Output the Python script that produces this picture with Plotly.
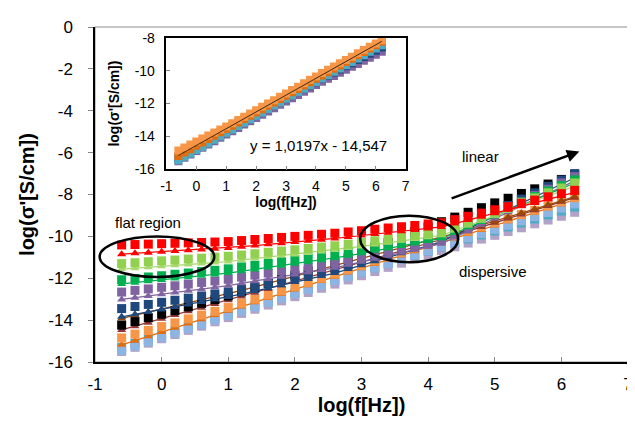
import plotly.graph_objects as go

# ---------------- data ----------------
log_f = [-0.6, -0.4, -0.2, 0.0, 0.2, 0.4, 0.6, 0.8, 1.0, 1.2, 1.4, 1.6, 1.8, 2.0, 2.2, 2.4,
         2.6, 2.8, 3.0, 3.2, 3.4, 3.6, 3.8, 4.0, 4.2, 4.4, 4.6, 4.8, 5.0, 5.2, 5.4, 5.6,
         5.8, 6.0, 6.2]

red_sq = [-10.41, -10.39, -10.37, -10.35, -10.33, -10.31, -10.29, -10.27, -10.25,
          -10.20, -10.15, -10.10, -10.05, -10.00, -9.95, -9.90, -9.85,
          -9.79, -9.73, -9.66, -9.60, -9.54, -9.48, -9.41, -9.35,
          -9.20, -9.04, -8.89, -8.73, -8.58, -8.42, -8.27, -8.11, -7.96, -7.80]
red_tri = [-10.85, -10.81, -10.78, -10.74, -10.70, -10.66, -10.63, -10.59, -10.55,
           -10.49, -10.44, -10.38, -10.33, -10.27, -10.21, -10.16, -10.10,
           -10.03, -9.96, -9.89, -9.83, -9.76, -9.69, -9.62, -9.55,
           -9.39, -9.22, -9.06, -8.89, -8.73, -8.56, -8.40, -8.23, -8.07, -7.90]
lgreen_sq = [-11.30, -11.26, -11.21, -11.17, -11.13, -11.08, -11.04, -10.99, -10.95,
             -10.89, -10.83, -10.76, -10.70, -10.64, -10.58, -10.51, -10.45,
             -10.37, -10.29, -10.21, -10.13, -10.04, -9.96, -9.88, -9.80,
             -9.57, -9.33, -9.10, -8.86, -8.63, -8.39, -8.16, -7.92, -7.69, -7.45]
lgreen_tri = [-11.56, -11.52, -11.47, -11.43, -11.38, -11.34, -11.29, -11.25, -11.20,
              -11.13, -11.06, -10.99, -10.93, -10.86, -10.79, -10.72, -10.65,
              -10.56, -10.48, -10.39, -10.30, -10.21, -10.13, -10.04, -9.95,
              -9.72, -9.48, -9.25, -9.01, -8.78, -8.54, -8.31, -8.07, -7.84, -7.60]
green_sq = [-12.07, -12.01, -11.94, -11.88, -11.81, -11.75, -11.68, -11.62, -11.55,
            -11.46, -11.38, -11.29, -11.20, -11.11, -11.03, -10.94, -10.85,
            -10.74, -10.63, -10.51, -10.40, -10.29, -10.18, -10.06, -9.95,
            -9.69, -9.42, -9.16, -8.89, -8.63, -8.36, -8.10, -7.83, -7.57, -7.30]
green_tri = [-12.27, -12.21, -12.14, -12.08, -12.01, -11.95, -11.88, -11.82, -11.75,
             -11.66, -11.58, -11.49, -11.40, -11.31, -11.23, -11.14, -11.05,
             -10.93, -10.81, -10.69, -10.58, -10.46, -10.34, -10.22, -10.10,
             -9.84, -9.57, -9.31, -9.04, -8.78, -8.51, -8.25, -7.98, -7.72, -7.45]
purple_sq = [-12.66, -12.58, -12.51, -12.43, -12.36, -12.28, -12.20, -12.13, -12.05,
             -11.95, -11.85, -11.75, -11.65, -11.55, -11.45, -11.35, -11.25,
             -11.11, -10.98, -10.84, -10.70, -10.56, -10.43, -10.29, -10.15,
             -9.85, -9.55, -9.25, -8.95, -8.65, -8.35, -8.05, -7.75, -7.45, -7.15]
purple_tri = [-13.01, -12.93, -12.85, -12.76, -12.68, -12.60, -12.52, -12.43, -12.35,
              -12.24, -12.14, -12.03, -11.93, -11.82, -11.71, -11.61, -11.50,
              -11.36, -11.21, -11.07, -10.93, -10.78, -10.64, -10.49, -10.35,
              -10.05, -9.75, -9.45, -9.15, -8.85, -8.55, -8.25, -7.95, -7.65, -7.35]
dblue_sq = [-13.45, -13.35, -13.25, -13.15, -13.05, -12.95, -12.85, -12.75, -12.65,
            -12.51, -12.38, -12.24, -12.10, -11.96, -11.83, -11.69, -11.55,
            -11.36, -11.18, -10.99, -10.80, -10.61, -10.43, -10.24, -10.05,
            -9.75, -9.44, -9.14, -8.83, -8.53, -8.22, -7.92, -7.61, -7.31, -7.00]
dblue_tri = [-13.84, -13.72, -13.61, -13.49, -13.37, -13.25, -13.14, -13.02, -12.90,
             -12.76, -12.61, -12.47, -12.33, -12.18, -12.04, -11.89, -11.75,
             -11.56, -11.38, -11.19, -11.00, -10.81, -10.63, -10.44, -10.25,
             -9.95, -9.64, -9.34, -9.03, -8.73, -8.42, -8.12, -7.81, -7.51, -7.20]
brown_tri = [-13.92, -13.77, -13.63, -13.48, -13.34, -13.19, -13.04, -12.90, -12.75,
             -12.58, -12.41, -12.24, -12.08, -11.91, -11.74, -11.57, -11.40,
             -11.23, -11.06, -10.89, -10.73, -10.56, -10.39, -10.22, -10.05,
             -9.86, -9.66, -9.47, -9.27, -9.08, -8.88, -8.69, -8.49, -8.30, -8.10]
black_sq = [-14.24, -14.07, -13.89, -13.72, -13.55, -13.37, -13.20, -13.02, -12.85,
            -12.65, -12.45, -12.25, -12.05, -11.85, -11.65, -11.45, -11.25,
            -11.01, -10.76, -10.52, -10.28, -10.03, -9.79, -9.55, -9.30,
            -9.08, -8.85, -8.63, -8.40, -8.18, -7.95, -7.73, -7.50, -7.28, -7.05]
maroon_tri = [-14.47, -14.29, -14.12, -13.94, -13.76, -13.58, -13.41, -13.23, -13.05,
              -12.87, -12.69, -12.51, -12.33, -12.14, -11.96, -11.78, -11.60,
              -11.42, -11.24, -11.06, -10.88, -10.69, -10.51, -10.33, -10.15,
              -9.95, -9.75, -9.55, -9.35, -9.15, -8.95, -8.75, -8.55, -8.35, -8.15]
orange_sq = [-14.85, -14.67, -14.49, -14.31, -14.13, -13.94, -13.76, -13.58, -13.40,
             -13.20, -13.00, -12.80, -12.60, -12.40, -12.20, -12.00, -11.80,
             -11.59, -11.39, -11.18, -10.98, -10.77, -10.56, -10.36, -10.15,
             -9.95, -9.75, -9.55, -9.35, -9.15, -8.95, -8.75, -8.55, -8.35, -8.15]
orange_tri = [-15.18, -14.98, -14.77, -14.57, -14.37, -14.16, -13.96, -13.75, -13.55,
              -13.35, -13.15, -12.94, -12.74, -12.54, -12.34, -12.13, -11.93,
              -11.73, -11.52, -11.32, -11.11, -10.91, -10.71, -10.50, -10.30,
              -10.10, -9.89, -9.69, -9.48, -9.28, -9.07, -8.87, -8.66, -8.46, -8.25]
lblue_sq = [-15.45, -15.24, -15.03, -14.82, -14.62, -14.41, -14.20, -13.99, -13.78,
            -13.57, -13.37, -13.16, -12.95, -12.74, -12.54, -12.33, -12.12,
            -11.92, -11.71, -11.51, -11.30, -11.10, -10.89, -10.69, -10.48,
            -10.28, -10.07, -9.87, -9.67, -9.47, -9.26, -9.06, -8.86, -8.65, -8.45]
blue_sq = [-15.30, -15.10, -14.90, -14.70, -14.50, -14.30, -14.10, -13.90, -13.70,
           -13.50, -13.30, -13.10, -12.90, -12.70, -12.50, -12.30, -12.10,
           -11.90, -11.70, -11.50, -11.30, -11.10, -10.90, -10.70, -10.50,
           -10.31, -10.12, -9.93, -9.74, -9.55, -9.36, -9.17, -8.98, -8.79, -8.60]
lav_sq = [-15.50, -15.30, -15.10, -14.89, -14.69, -14.49, -14.29, -14.08, -13.88,
          -13.68, -13.48, -13.28, -13.08, -12.88, -12.68, -12.48, -12.28,
          -12.08, -11.88, -11.68, -11.48, -11.28, -11.08, -10.88, -10.68,
          -10.50, -10.32, -10.13, -9.95, -9.77, -9.59, -9.40, -9.22, -9.04, -8.85]

# fitted line shown in the inset: y = 1,0197x - 14,547
fit_slope = 1.0197
fit_intercept = -14.547
fit_x = [-0.6, 6.2]

x_ticks = [-1, 0, 1, 2, 3, 4, 5, 6, 7]
x_ticktext = ["-1", "0", "1", "2", "3", "4", "5", "6", "7"]
y_ticks = [0, -2, -4, -6, -8, -10, -12, -14, -16]
y_ticktext = ["0", "-2", "-4", "-6", "-8", "-10", "-12", "-14", "-16"]
inset_y_ticks = [-8, -10, -12, -14, -16]
inset_y_ticktext = ["-8", "-10", "-12", "-14", "-16"]

# (values, colour, symbol, with line)  -- drawn bottom to top
main_series = [
    (lav_sq, "#B3A2C7", "square", False),
    (blue_sq, "#4BACC6", "square", False),
    (lblue_sq, "#8DB4E2", "square", False),
    (orange_tri, "#E46C0A", "triangle-up", True),
    (orange_sq, "#F79646", "square", False),
    (maroon_tri, "#953735", "triangle-up", True),
    (brown_tri, "#984807", "triangle-up", True),
    (black_sq, "#000000", "square", False),
    (dblue_tri, "#1F497D", "triangle-up", True),
    (dblue_sq, "#1F497D", "square", False),
    (purple_tri, "#8064A2", "triangle-up", True),
    (purple_sq, "#8064A2", "square", False),
    (green_tri, "#00B050", "triangle-up", True),
    (green_sq, "#00B050", "square", False),
    (lgreen_tri, "#A9D86E", "triangle-up", True),
    (lgreen_sq, "#92D050", "square", False),
    (red_tri, "#FF0000", "triangle-up", True),
    (red_sq, "#FF0000", "square", False),
]

inset_series = [
    (lav_sq, "#8064A2"),
    (blue_sq, "#1F497D"),
    (lblue_sq, "#4BACC6"),
    (orange_tri, "#E46C0A"),
    (orange_sq, "#F79646"),
]

FONT = "Arial, 'Liberation Sans', sans-serif"

fig = go.Figure()
for vals, col, sym, line in main_series:
    fig.add_trace(go.Scatter(
        x=log_f, y=vals, mode="lines+markers" if line else "markers",
        line=dict(color=col, width=1.25),
        marker=dict(symbol=sym, size=9 if sym == "square" else 8, color=col, line=dict(width=0)),
        showlegend=False, hoverinfo="skip", xaxis="x", yaxis="y"))

for vals, col in inset_series:
    fig.add_trace(go.Scatter(
        x=log_f, y=vals, mode="markers",
        marker=dict(symbol="square", size=8, color=col, line=dict(width=0)),
        showlegend=False, hoverinfo="skip", xaxis="x2", yaxis="y2"))

fig.add_trace(go.Scatter(
    x=fit_x, y=[fit_slope * v + fit_intercept for v in fit_x], mode="lines",
    line=dict(color="#3A2A1A", width=1), showlegend=False, hoverinfo="skip",
    xaxis="x2", yaxis="y2"))

fig.update_layout(
    width=635, height=424,
    margin=dict(l=87, r=10, t=15, b=70),
    paper_bgcolor="white", plot_bgcolor="white",
    font=dict(family=FONT, color="black"),
    xaxis=dict(range=[-1, 7], tickvals=x_ticks, ticktext=x_ticktext,
               ticks="inside", ticklen=5, tickcolor="#868686", showgrid=False, zeroline=False,
               showline=True, linecolor="black", linewidth=1.5, mirror=False,
               tickfont=dict(size=17, family=FONT), ticklabelstandoff=6,
               ticklabeloverflow="allow",
               title=dict(text="<b>log(f[Hz])</b>", font=dict(size=20, family=FONT), standoff=4),
               domain=[0, 1]),
    yaxis=dict(range=[-16, 0], tickvals=y_ticks, ticktext=y_ticktext,
               ticks="outside", ticklen=5, tickcolor="#868686", showgrid=False, zeroline=False,
               showline=True, linecolor="black", linewidth=1.5,
               tickfont=dict(size=17, family=FONT), ticklabelstandoff=12,
               title=dict(text="<b>log(σ'[S/cm])</b>", font=dict(size=20, family=FONT), standoff=8),
               domain=[0, 1]),
    xaxis2=dict(range=[-1, 7], tickvals=x_ticks, ticktext=x_ticktext, anchor="y2",
                domain=[0.134, 0.583], ticks="inside", ticklen=4, tickcolor="#868686",
                showgrid=False, zeroline=False, showline=True, linecolor="black",
                linewidth=1.5, mirror=True, tickfont=dict(size=14, family=FONT),
                ticklabelstandoff=3,
                title=dict(text="<b>log(f[Hz])</b>", font=dict(size=14, family=FONT), standoff=1)),
    yaxis2=dict(range=[-16, -8], tickvals=inset_y_ticks, ticktext=inset_y_ticktext, anchor="x2",
                domain=[0.575, 0.968], ticks="inside", ticklen=4, tickcolor="#868686",
                showgrid=False, zeroline=False, showline=True, linecolor="black",
                linewidth=1.5, mirror=True, tickfont=dict(size=14, family=FONT),
                ticklabelstandoff=7,
                title=dict(text="<b>log(σ'[S/cm])</b>", font=dict(size=14, family=FONT), standoff=12)),
)

# plot-area frame (grey top / right)
fig.add_shape(type="rect", xref="paper", yref="paper", x0=0, x1=1, y0=0, y1=1,
              line=dict(color="#8C8C8C", width=1), layer="below")
# ellipses and arrow
fig.add_shape(type="circle", xref="x", yref="y", x0=-0.93, x1=0.79, y0=-11.94, y1=-10.0,
              line=dict(color="black", width=2.5))
fig.add_shape(type="circle", xref="x", yref="y", x0=2.98, x1=4.45, y0=-11.23, y1=-9.01,
              line=dict(color="black", width=2.5))
fig.add_annotation(x=6.27, y=-5.95, ax=4.33, ay=-8.21, xref="x", yref="y", axref="x", ayref="y",
                   text="", showarrow=True, arrowhead=2, arrowsize=1, arrowwidth=2.5,
                   arrowcolor="black")
fig.add_annotation(x=-0.21, y=-9.34, xref="x", yref="y", text="flat region", showarrow=False,
                   font=dict(size=15, family=FONT, color="black"))
fig.add_annotation(x=4.79, y=-6.18, xref="x", yref="y", text="linear", showarrow=False,
                   font=dict(size=15, family=FONT, color="black"))
fig.add_annotation(x=4.97, y=-11.66, xref="x", yref="y", text="dispersive", showarrow=False,
                   font=dict(size=15, family=FONT, color="black"))
fig.add_annotation(x=4.09, y=-14.56, xref="x2", yref="y2", text="y = 1,0197x - 14,547",
                   showarrow=False, font=dict(size=15, family=FONT, color="black"))

fig.write_html("out.html")
